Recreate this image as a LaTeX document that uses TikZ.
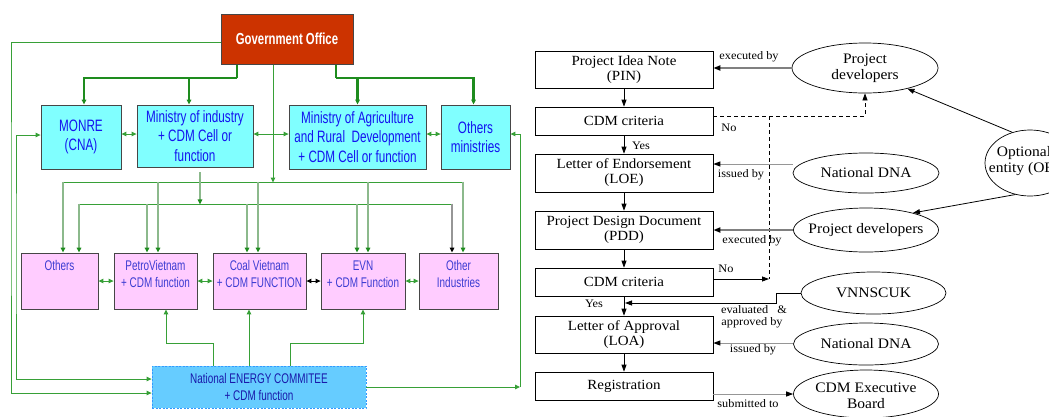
\documentclass[tikz,border=0pt]{standalone}
\usepackage{fontspec}
\usetikzlibrary{arrows.meta,calc,shapes.geometric}
\newfontfamily\nsans[FakeStretch=0.71]{Liberation Sans}
\newfontfamily\govfont[FakeStretch=0.71]{Liberation Sans Bold}
\newfontfamily\tserif[FakeStretch=1.07]{Liberation Serif}
\definecolor{gdark}{RGB}{30,140,30}
\definecolor{gmid}{RGB}{55,160,55}
\definecolor{glite}{RGB}{140,185,140}
\definecolor{cyanfill}{RGB}{128,255,255}
\definecolor{pinkfill}{RGB}{255,204,255}
\definecolor{govfill}{RGB}{204,51,0}
\definecolor{necfill}{RGB}{102,204,255}
\definecolor{necline}{RGB}{51,153,255}
\definecolor{ctext}{RGB}{20,20,240}
\definecolor{ptext}{RGB}{60,60,210}
\definecolor{ntext}{RGB}{25,25,170}
\definecolor{frame}{RGB}{70,70,70}
\definecolor{lgray}{RGB}{150,150,150}
\begin{document}
\begin{tikzpicture}[x=1pt,y=-1pt,
  >={Triangle[length=5pt,width=4.5pt]},
  govbox/.style={draw=frame,fill=govfill,line width=1,minimum width=132,minimum height=50,inner sep=0,text=white,font=\govfont\fontsize{16}{19}\selectfont},
  cbox/.style={draw=frame,fill=cyanfill,line width=0.8,inner sep=0,align=center,text=ctext,font=\nsans\fontsize{16.5}{19.5}\selectfont},
  pbox/.style={draw=frame,fill=pinkfill,line width=0.8,minimum height=56,inner sep=0},
  ptxt/.style={text=ptext,align=center,anchor=north,inner sep=0,font=\nsans\fontsize{14}{17}\selectfont},
  necbox/.style={draw=necline,dash pattern=on 2pt off 1.5pt,fill=necfill,line width=0.8,minimum width=214,minimum height=42,inner sep=0,align=center,text=ntext,font=\nsans\fontsize{14}{17}\selectfont},
  gthick/.style={draw=gdark,line width=2.2},
  gthin/.style={draw=gmid,line width=1},
  glt/.style={draw=glite,line width=1.3,-{Triangle[length=5pt,width=4.5pt,color=gdark]}},
  gbus/.style={draw=gmid,line width=1},
  rbox/.style={draw=black,line width=0.7,fill=white,minimum width=178,inner sep=0,align=center,font=\tserif\fontsize{14}{15}\selectfont},
  rell/.style={ellipse,draw=black,line width=0.7,inner sep=0},
  etxt/.style={align=center,inner sep=0,font=\tserif\fontsize{14.5}{16}\selectfont},
  lbl/.style={inner sep=0,font=\tserif\fontsize{11.5}{13}\selectfont},
  bk/.style={draw=black,line width=0.8,-{Triangle[length=7pt,width=5pt]}},
  gy/.style={draw=lgray,line width=1,-{Triangle[length=7pt,width=5pt,color=black]}},
  gyd/.style={draw=gray,line width=2.6,-{Triangle[length=7pt,width=5pt,color=black]}},
  dsh/.style={draw=black,line width=0.7,dash pattern=on 4pt off 3pt}
]
\useasboundingbox (0,0) rectangle (1049,416);
\fill[white] (0,0) rectangle (1049,416);

% ---------------- left diagram ----------------
\node[govbox] (gov) at (287,39) {Government Office};
\node[cbox,minimum width=80,minimum height=64] (monre) at (81,137) {MONRE\\(CNA)};
\node[cbox,minimum width=116,minimum height=62] (minind) at (195,136) {Ministry of industry\\+ CDM Cell or\\function};
\node[cbox,minimum width=137,minimum height=64] (minagr) at (357.5,137) {Ministry of Agriculture\\and Rural\ \ Development\\+ CDM Cell or function};
\node[cbox,minimum width=69,minimum height=64] (omin) at (475.5,137) {Others\\ministries};

\node[pbox,minimum width=77] (others) at (59.5,281) {};
\node[ptxt] (others-t) at ($(others.north)+(0,8)$) {Others};
\node[pbox,minimum width=83] (petro) at (155.5,281) {};
\node[ptxt] (petro-t) at ($(petro.north)+(0,8)$) {PetroVietnam\\+ CDM function};
\node[pbox,minimum width=93] (coal) at (259.5,281) {};
\node[ptxt] (coal-t) at ($(coal.north)+(0,8)$) {Coal Vietnam\\+ CDM FUNCTION};
\node[pbox,minimum width=84] (evn) at (363,281) {};
\node[ptxt] (evn-t) at ($(evn.north)+(0,8)$) {EVN\\+ CDM Function};
\node[pbox,minimum width=79] (oind) at (458.5,281) {};
\node[ptxt] (oind-t) at ($(oind.north)+(0,8)$) {Other\\Industries};

\node[necbox] (nec) at (259,387) {National ENERGY COMMITEE\\+ CDM function};

% thick links from Government Office
\coordinate (jl) at (237,78);
\coordinate (jr) at (336,78);
\draw[gthick] ($(gov.south)+(-50,0)$) -- (jl);
\draw[gthick,->] (jl) -| ($(monre.north)+(3,0)$);
\draw[gthick,->] (jl) -| ($(minind.north)+(-6,0)$);
\draw[gthick] ($(gov.south)+(49,0)$) -- (jr);
\draw[gthick,->] (jr) -| (minagr.north);
\draw[gthick,->] (jr) -| ($(omin.north)+(-2,0)$);

% ministry double arrows
\draw[gthin,<->] ($(monre.east)+(0,-3)$) -- ($(minind.west)+(0,-2)$);
\draw[gthin,<->] ($(minind.east)+(0,-2)$) -- ($(minagr.west)+(0,-3)$);
\draw[gthin,<->] ($(minagr.east)+(0,-3)$) -- ($(omin.west)+(0,-3)$);

% buses
\coordinate (b1w) at (63,182);
\coordinate (b1e) at (463,182);
\coordinate (b2w) at (79,204);
\coordinate (b2e) at (452,204);
\draw[gbus] (b1w) -- (b1e);
\draw[gbus] (b2w) -- (b2e);
\draw[gthin,->] ($(gov.south)+(-14,0)$) -- ($(gov.south)+(-14,118)$);
\draw[glt] ($(minind.south)+(5,5)$) -- ($(minind.south)+(5,37)$);

% drops from upper bus (y=182)
\draw[glt] ($(others.north)+(3.5,-71)$) -- ($(others.north)+(3.5,0)$);
\draw[glt] ($(petro.north)+(2.5,-71)$) -- ($(petro.north)+(2.5,0)$);
\draw[glt] ($(coal.north)+(-1.5,-71)$) -- ($(coal.north)+(-1.5,0)$);
\draw[glt] ($(evn.north)+(5,-71)$) -- ($(evn.north)+(5,0)$);
\draw[glt] ($(oind.north)+(4.5,-71)$) -- ($(oind.north)+(4.5,0)$);
% drops from lower bus (y=204)
\draw[glt] ($(others.north)+(19.5,-49)$) -- ($(others.north)+(19.5,0)$);
\draw[glt] ($(petro.north)+(-8.5,-49)$) -- ($(petro.north)+(-8.5,0)$);
\draw[glt] ($(coal.north)+(-12.5,-49)$) -- ($(coal.north)+(-12.5,0)$);
\draw[glt] ($(evn.north)+(-6,-49)$) -- ($(evn.north)+(-6,0)$);
\draw[draw=lgray,line width=1.3,-{Triangle[length=5pt,width=4.5pt,color=black]}] ($(oind.north)+(-6.5,-49)$) -- ($(oind.north)+(-6.5,0)$);

% company double arrows
\draw[gthin,<->] (others.east) -- (petro.west);
\draw[gthin,<->] (petro.east) -- (coal.west);
\draw[draw=black,line width=1,<->] (coal.east) -- (evn.west);
\draw[gthin,<->] (evn.east) -- (oind.west);

% NEC upward links
\draw[gthin,->] ($(nec.north)+(-46,0)$) -- ($(nec.north)+(-46,-22)$) -| ($(petro.south)+(10.5,0)$);
\draw[gthin,->] ($(nec.north)+(-10,0)$) -- ($(coal.south)+(-10.5,0)$);
\draw[gthin,->] ($(nec.north)+(31,0)$) -- ($(nec.north)+(31,-22)$) -| (evn.south);

% outer frame lines
\coordinate (fl) at (11,200);
\coordinate (il) at (16,250);
\coordinate (rb) at (520,387);
\draw[gthin,->] ($(gov.west)+(0,3)$) -| (fl) |- ($(nec.west)+(0,6)$);
\draw[gthin,<->] ($(monre.west)+(0,-2)$) -| (il) |- ($(nec.west)+(0,-8)$);
\draw[gthin,->] (nec.east) -- (rb);
\draw[gthin,->] (rb) |- ($(omin.east)+(0,-3)$);

% ---------------- right diagram ----------------
\node[rbox,minimum height=37] (pin) at (624,69.5) {Project Idea Note\\(PIN)};
\node[rbox,minimum height=28] (crit1) at (624,121) {CDM criteria};
\node[rbox,minimum height=38] (loe) at (624,173) {Letter of Endorsement\\(LOE)};
\node[rbox,minimum height=38] (pdd) at (624,230) {Project Design Document\\(PDD)};
\node[rbox,minimum height=28] (crit2) at (624,282) {CDM criteria};
\node[rbox,minimum height=37] (loa) at (624,334.5) {Letter of Approval\\(LOA)};
\node[rbox,minimum height=28] (reg) at (624,386) {Registration};

\node[rell,minimum width=146,minimum height=50] (pd1) at (865,68) {};
\node[etxt] (pd1-t) at (pd1) {Project\\developers};
\node[rell,minimum width=146,minimum height=40] (dna1) at (866,173) {};
\node[etxt] (dna1-t) at (dna1) {National DNA};
\node[rell,minimum width=90,minimum height=66] (oe) at (1030,163) {};
\node[etxt] (oe-t) at (1024,161) {Optional\\entity (OE)};
\node[rell,minimum width=145,minimum height=44] (pd2) at (866,230) {};
\node[etxt] (pd2-t) at (pd2) {Project developers};
\node[rell,minimum width=145,minimum height=42] (vnn) at (873.5,293) {};
\node[etxt] (vnn-t) at (vnn) {VNNSCUK};
\node[rell,minimum width=145,minimum height=42] (dna2) at (866,344) {};
\node[etxt] (dna2-t) at (dna2) {National DNA};
\node[rell,minimum width=145,minimum height=48] (cdmeb) at (866,394) {};
\node[etxt] (cdmeb-t) at (866,396) {CDM Executive\\Board};

% vertical flow
\draw[bk] (pin.south) -- (crit1.north);
\draw[bk] (crit1.south) -- (loe.north);
\draw[bk] (loe.south) -- (pdd.north);
\draw[bk] (pdd.south) -- (crit2.north);
\draw[bk] (crit2.south) -- (loa.north);
\draw[bk] (loa.south) -- (reg.north);

% side links
\draw[gyd] (pd1.west) -- (pd1.west -| pin.east);
\draw[dsh,-{Triangle[length=7pt,width=5pt]}] ($(crit1.east)+(0,-5)$) -| (pd1.south);
\coordinate (dvt) at (769,116);
\coordinate (dvb) at (769,279);
\draw[dsh] (dvt) -- (dvb);
\draw[gy] ($(dna1.west)+(0,-9)$) -- ($(loe.east)+(0,-9)$);
\draw[gyd] (pd2.west) -- (pdd.east);
\draw[bk] (oe.120) -- (pd1.334);
\draw[bk] (oe.245) -- (pd2.20);
\draw[bk] ($(crit2.east)+(0,-3)$) -- (dvb);
\coordinate (vl) at (625,303);
\draw[bk] (vnn.west) -- ++(-24,0) -- ++(0,10) -- (vl);
\draw[gy] ($(dna2.west)+(0,-1)$) -- ($(loa.east)+(0,8.5)$);
\draw[gy] ($(reg.east)+(0,8)$) -- (cdmeb.west);

% labels
\node[lbl] (l1) at (749,57) {executed by};
\node[lbl] (l2) at (729,128) {No};
\node[lbl] (l3) at (641,146) {Yes};
\node[lbl] (l4) at (741,175) {issued by};
\node[lbl] (l5) at (752,241) {executed by};
\node[lbl] (l6) at (726,269) {No};
\node[lbl] (l7) at (594,304) {Yes};
\node[lbl] (l8) at (754,310) {evaluated\ \ \ \&};
\node[lbl] (l9) at (752,323) {approved by};
\node[lbl] (l10) at (753,350) {issued by};
\node[lbl] (l11) at (748,404) {submitted to};
\end{tikzpicture}
\end{document}
